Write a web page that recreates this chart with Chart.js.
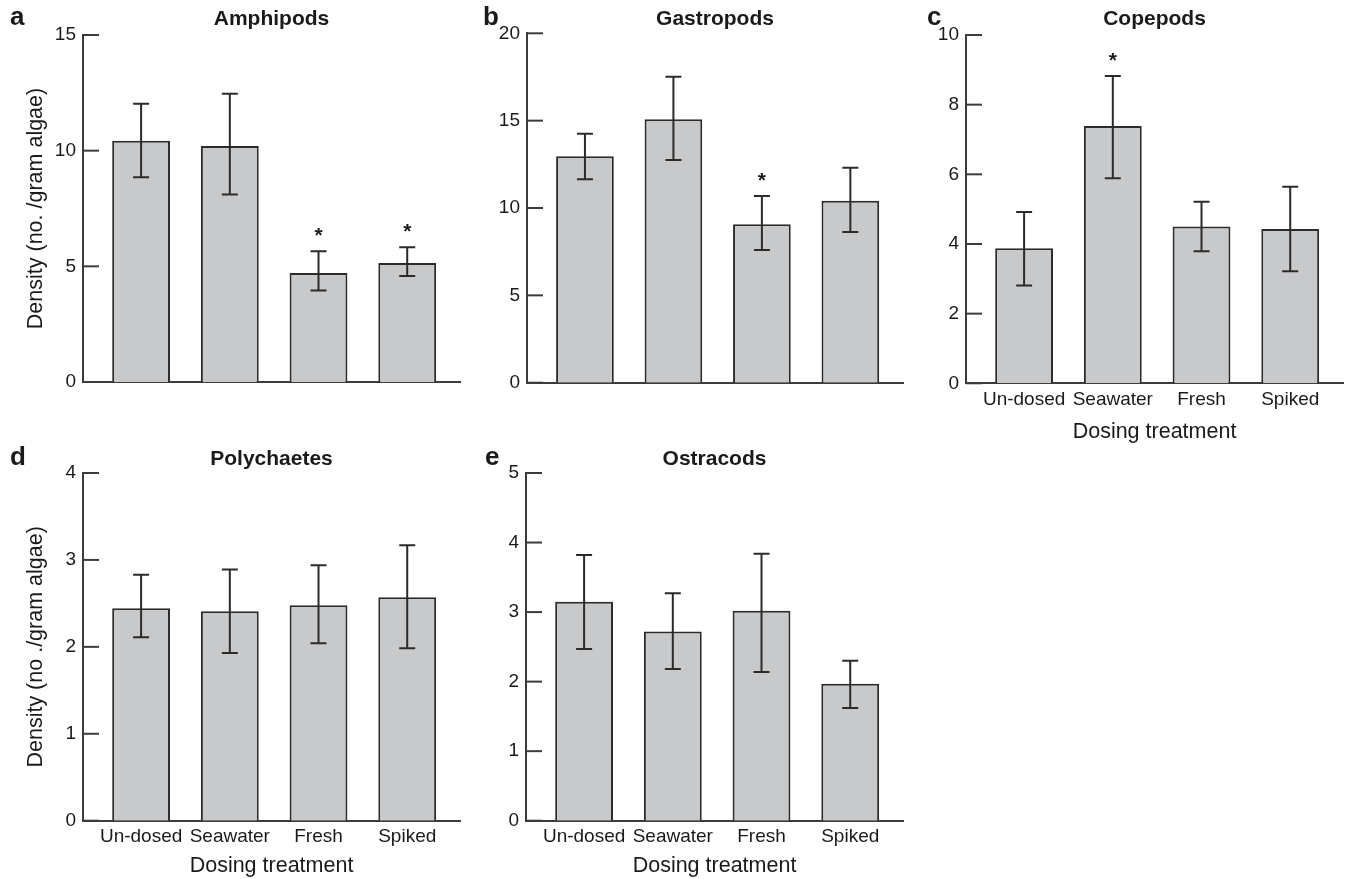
<!DOCTYPE html>
<html lang="en">
<head>
  <meta charset="UTF-8">
  <title>Invertebrate density by dosing treatment</title>
  <script src="https://cdn.jsdelivr.net/npm/chart.js"></script>
  <style>
    body { margin: 0; background: #fff; }
    .panel { position: absolute; }
  </style>
</head>
<body>
  <canvas id="chartA" class="panel" width="470" height="445" style="left:0;top:0"></canvas>
  <canvas id="chartB" class="panel" width="440" height="445" style="left:470px;top:0"></canvas>
  <canvas id="chartC" class="panel" width="441" height="445" style="left:910px;top:0"></canvas>
  <canvas id="chartD" class="panel" width="470" height="439" style="left:0;top:440px"></canvas>
  <canvas id="chartE" class="panel" width="440" height="439" style="left:470px;top:440px"></canvas>

  <script>
    const categories = ['Un-dosed', 'Seawater', 'Fresh', 'Spiked'];

    // a - Amphipods
    const amphipodMean = [10.43, 10.2, 4.71, 5.14];
    const amphipodHigh = [12.03, 12.46, 5.65, 5.82];
    const amphipodLow = [8.85, 8.11, 3.95, 4.58];
    const amphipodSig = [false, false, true, true];
    const amphipodTicks = [0, 5, 10, 15];

    // b - Gastropods
    const gastropodMean = [12.96, 15.08, 9.07, 10.42];
    const gastropodHigh = [14.25, 17.52, 10.69, 12.31];
    const gastropodLow = [11.64, 12.75, 7.6, 8.63];
    const gastropodSig = [false, false, true, false];
    const gastropodTicks = [0, 5, 10, 15, 20];

    // c - Copepods
    const copepodMean = [3.88, 7.39, 4.5, 4.43];
    const copepodHigh = [4.92, 8.82, 5.21, 5.64];
    const copepodLow = [2.81, 5.89, 3.79, 3.22];
    const copepodSig = [false, true, false, false];
    const copepodTicks = [0, 2, 4, 6, 8, 10];

    // d - Polychaetes
    const polychaeteMean = [2.445, 2.41, 2.48, 2.57];
    const polychaeteHigh = [2.83, 2.89, 2.94, 3.17];
    const polychaeteLow = [2.11, 1.93, 2.04, 1.985];
    const polychaeteSig = [false, false, false, false];
    const polychaeteTicks = [0, 1, 2, 3, 4];

    // e - Ostracods
    const ostracodMean = [3.15, 2.72, 3.02, 1.97];
    const ostracodHigh = [3.82, 3.27, 3.84, 2.30];
    const ostracodLow = [2.47, 2.18, 2.14, 1.62];
    const ostracodSig = [false, false, false, false];
    const ostracodTicks = [0, 1, 2, 3, 4, 5];

    const FONT = "'Liberation Sans', Arial, Helvetica, sans-serif";
    const INK = '#1a1a1a';
    const LINE = '#2b2b2b';
    const AXIS = '#3c3c3c';
    const BAR_FILL = '#c8c9cb';

    // draws inward ticks, error bars, significance stars, panel title and letter
    function decorPlugin(p) {
      return {
        id: 'decor',
        afterDatasetsDraw(chart) {
          const { ctx, chartArea, scales: { x, y } } = chart;
          ctx.save();
          ctx.strokeStyle = AXIS;
          ctx.lineWidth = 2;

          p.ticks.forEach(v => {
            const py = y.getPixelForValue(v);
            ctx.beginPath();
            ctx.moveTo(chartArea.left, py);
            ctx.lineTo(chartArea.left + 16, py);
            ctx.stroke();
          });

          ctx.strokeStyle = LINE;
          p.high.forEach((h, i) => {
            const px = x.getPixelForValue(i);
            const top = y.getPixelForValue(h);
            const bot = y.getPixelForValue(p.low[i]);
            ctx.beginPath();
            ctx.moveTo(px, top); ctx.lineTo(px, bot);
            ctx.moveTo(px - 8, top); ctx.lineTo(px + 8, top);
            ctx.moveTo(px - 8, bot); ctx.lineTo(px + 8, bot);
            ctx.stroke();
            if (p.sig[i]) {
              ctx.fillStyle = INK;
              ctx.font = 'bold 21px ' + FONT;
              ctx.textAlign = 'center';
              ctx.textBaseline = 'alphabetic';
              ctx.fillText('*', px, top - 9);
            }
          });

          ctx.fillStyle = INK;
          ctx.textBaseline = 'alphabetic';
          ctx.textAlign = 'center';
          ctx.font = 'bold 21px ' + FONT;
          ctx.fillText(p.title, (chartArea.left + chartArea.right) / 2, 25);
          ctx.textAlign = 'left';
          ctx.font = 'bold 26px ' + FONT;
          ctx.fillText(p.letter, p.letterX, 25);
          ctx.restore();
        }
      };
    }

    function makePanel(canvasId, p) {
      const ctx = document.getElementById(canvasId).getContext('2d');
      return new Chart(ctx, {
        type: 'bar',
        data: {
          datasets: [{
            data: p.mean.map((v, i) => ({ x: i, y: v })),
            backgroundColor: BAR_FILL,
            borderColor: LINE,
            borderWidth: 2,
            categoryPercentage: 1,
            barPercentage: 0.652
          }]
        },
        options: {
          responsive: false,
          animation: false,
          events: [],
          devicePixelRatio: 1,
          layout: { padding: { top: p.padTop, right: p.padRight, left: 0, bottom: 0 } },
          plugins: { legend: { display: false }, tooltip: { enabled: false } },
          scales: {
            x: {
              type: 'linear',
              min: -0.655,
              max: 3.595,
              offset: false,
              grid: { display: false, drawTicks: false },
              border: { display: true, color: AXIS, width: 2 },
              afterBuildTicks: s => { s.ticks = categories.map((c, i) => ({ value: i })); },
              afterFit: s => { s.height = p.xh; },
              ticks: {
                display: p.showX,
                padding: 5,
                color: INK,
                font: { family: FONT, size: 19 },
                callback: v => categories[v]
              },
              title: {
                display: p.showX,
                text: 'Dosing treatment',
                color: INK,
                font: { family: FONT, size: 21.5 },
                padding: { top: 0, bottom: 0 }
              }
            },
            y: {
              min: 0,
              max: p.ticks[p.ticks.length - 1],
              grid: { display: false, drawTicks: false },
              border: { display: true, color: AXIS, width: 2 },
              afterBuildTicks: s => { s.ticks = p.ticks.map(v => ({ value: v })); },
              afterFit: s => { s.width = p.yw; },
              ticks: {
                padding: 7,
                color: INK,
                font: { family: FONT, size: 19 }
              },
              title: {
                display: !!p.yTitle,
                text: p.yTitle || '',
                color: INK,
                font: { family: FONT, size: 21.5 },
                padding: { top: 23, bottom: 0 }
              }
            }
          }
        },
        plugins: [decorPlugin(p)]
      });
    }

    makePanel('chartA', {
      mean: amphipodMean, high: amphipodHigh, low: amphipodLow, sig: amphipodSig, ticks: amphipodTicks,
      title: 'Amphipods', letter: 'a', letterX: 10, yTitle: 'Density (no. /gram algae)',
      showX: false, yw: 83, xh: 63, padTop: 35, padRight: 10
    });
    makePanel('chartB', {
      mean: gastropodMean, high: gastropodHigh, low: gastropodLow, sig: gastropodSig, ticks: gastropodTicks,
      title: 'Gastropods', letter: 'b', letterX: 13,
      showX: false, yw: 57, xh: 62.3, padTop: 33.3, padRight: 7
    });
    makePanel('chartC', {
      mean: copepodMean, high: copepodHigh, low: copepodLow, sig: copepodSig, ticks: copepodTicks,
      title: 'Copepods', letter: 'c', letterX: 17,
      showX: true, yw: 56, xh: 61.7, padTop: 35, padRight: 8
    });
    makePanel('chartD', {
      mean: polychaeteMean, high: polychaeteHigh, low: polychaeteLow, sig: polychaeteSig, ticks: polychaeteTicks,
      title: 'Polychaetes', letter: 'd', letterX: 10, yTitle: 'Density (no ./gram algae)',
      showX: true, yw: 83, xh: 58.3, padTop: 33, padRight: 10
    });
    makePanel('chartE', {
      mean: ostracodMean, high: ostracodHigh, low: ostracodLow, sig: ostracodSig, ticks: ostracodTicks,
      title: 'Ostracods', letter: 'e', letterX: 15,
      showX: true, yw: 56, xh: 58.3, padTop: 33, padRight: 7
    });
  </script>
</body>
</html>
